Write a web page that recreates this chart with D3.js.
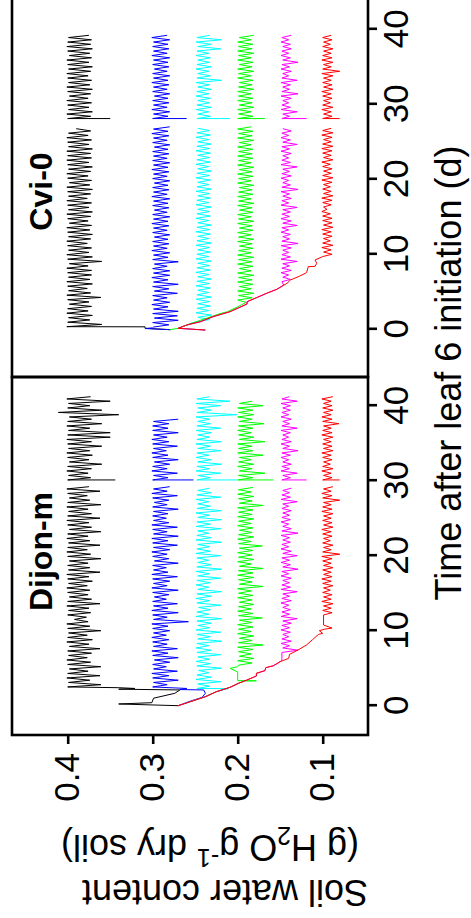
<!DOCTYPE html>
<html><head><meta charset="utf-8">
<script src="https://cdn.jsdelivr.net/npm/d3@7"></script>
<style>html,body{margin:0;padding:0;background:#fff;}svg{display:block;}</style>
</head><body>
<script>
// ---------------- DATA ----------------
const STEP = 0.3; // days between weighings
const timeTicks = [0, 10, 20, 30, 40];
const waterTicks = [0.1, 0.2, 0.3, 0.4];
const panelNames = ["Dijon-m", "Cvi-0"];
const seriesColors = ["#000000", "#0000ff", "#00ffff", "#00ff00", "#ff00ff", "#ff0000"];

// Dijon-m: dry-down phase [day, value]
const dijonBlackInit = [[0,.27],[0.23,.34],[0.4,.301],[1.0,.299],[1.65,.274],[2.1,.268],[2.2,.34],[2.3,.321],[2.4,.34]];
const dijonBlueInit = [[0,.27],[0.6,.256],[1.1,.242],[1.65,.238],[2.1,.24],[2.15,.268],[2.3,.26]];
const dijonCyanInit = [[0,.27],[0.53,.256],[1.2,.238],[1.87,.225],[2.28,.211]];
const dijonGreenInit = [[0,.27],[0.53,.256],[1.2,.238],[1.87,.225],[2.45,.209],[2.99,.199],[3.3,.191],[3.32,.178],[3.35,.2],[4.5,.2],[4.98,.209],[5.2,.2]];
const dijonMagentaInit = [[0,.27],[0.53,.256],[1.2,.238],[1.87,.225],[2.45,.209],[2.99,.199],[3.43,.189],[3.96,.178],[4.32,.178],[4.67,.168],[5.07,.167],[5.33,.158],[5.87,.15],[6.1,.148]];
const dijonRedInit = [[0,.27],[0.53,.256],[1.2,.238],[1.87,.225],[2.45,.209],[2.99,.199],[3.43,.189],[3.96,.178],[4.32,.178],[4.67,.168],[5.07,.167],[5.33,.158],[5.87,.15],[6.32,.14],[6.85,.139],[7.43,.129],[8.1,.119],[8.8,.112],[9.5,.105],[9.65,.1],[10.0,.104],[10.2,.098],[10.35,.089],[10.76,.099]];
const dijonSeg1Start = [2.5, 2.5, 2.3, 5.4, 7.1, 12.1];
const dijonSeg2Start = 30.1;
const dijonRestart = [.344, .252, .201, .158, .119, .08];

const dijonBlack1 = [.400,.361,.399,.374,.401,.362,.400,.376,.398,.361,.400,.373,.401,.377,.399,.372,.400,.362,.398,.375,.401,.371,.400,.377,.399,.361,.400,.374,.401,.376,.392,.378,.400,.373,.399,.375,.401,.362,.400,.372,.398,.376,.400,.374,.401,.377,.399,.371,.400,.375,.401,.362,.399,.374,.400,.376,.398,.361,.400,.373,.401,.377,.400,.362,.399,.374,.401,.376,.400,.361,.398,.372,.400,.375,.401,.362,.400,.372,.399,.376,.401,.361,.400,.374,.398,.377,.400,.362,.401,.375];
const dijonBlack2 = [.400,.373,.399,.376,.401,.372,.400,.36,.398,.375,.400,.371,.401,.374,.399,.36,.400,.372,.401,.35,.400,.35,.399,.374,.401,.36,.400,.372,.398,.34,.411,.36,.400,.374,.399,.35,.401,.373];
const dijonBlue1 = [.300,.283,.299,.270,.300,.281,.301,.271,.299,.284,.300,.28,.298,.27,.300,.282,.301,.271,.299,.283,.300,.281,.301,.284,.299,.28,.300,.282,.301,.258,.299,.283,.300,.27,.301,.282,.299,.271,.300,.284,.298,.281,.300,.27,.301,.283,.299,.28,.300,.271,.301,.282,.299,.284,.300,.27,.298,.281,.300,.283,.301,.28,.299,.271,.300,.282,.301,.27,.299,.283,.300,.271,.301,.281,.299,.284,.300,.282,.299,.27,.300,.283,.298,.281,.300,.271,.301,.283,.299,.28];
const dijonBlue2 = [.300,.282,.299,.271,.301,.283,.300,.28,.298,.27,.300,.282,.301,.284,.299,.271,.300,.281,.301,.283,.299,.27,.300,.282,.300,.281,.299,.27];
const dijonCyan1 = [.248,.233,.247,.22,.249,.231,.248,.234,.246,.219,.248,.232,.249,.233,.247,.22,.248,.231,.249,.234,.248,.219,.247,.232,.248,.22,.249,.233,.247,.231,.248,.219,.249,.234,.248,.232,.246,.22,.248,.233,.249,.231,.248,.219,.247,.234,.249,.232,.248,.22,.247,.233,.249,.219,.248,.231,.247,.234,.248,.22,.249,.232,.248,.233,.247,.219,.249,.231,.248,.234,.247,.22,.249,.232,.248,.219,.247,.233,.249,.219,.248,.232,.247,.234,.249,.22,.248,.231,.247,.233];
const dijonCyan2 = [.248,.232,.247,.22,.249,.233,.248,.219,.247,.231,.249,.234,.248,.22,.247,.232,.249,.219,.248,.233,.247,.231,.249,.22,.248,.232,.247,.233,.249,.201,.248,.231,.247,.22,.249,.209,.248,.233];
const dijonGreen1 = [.199,.183,.2,.181,.198,.184,.199,.182,.2,.17,.199,.183,.198,.181,.2,.184,.199,.182,.2,.183,.198,.171,.199,.182,.2,.184,.199,.181,.198,.183,.2,.182,.199,.184,.2,.17,.198,.183,.199,.181,.2,.182,.199,.17,.198,.184,.2,.181,.199,.183,.2,.182,.198,.171,.199,.184,.2,.181,.199,.183,.198,.182,.2,.184,.199,.181,.2,.183,.199,.182,.2,.17,.198,.183,.199,.181,.2,.184,.199,.182];
const dijonGreen2 = [.2,.182,.199,.168,.198,.183,.2,.181,.199,.184,.198,.17,.2,.182,.199,.183,.2,.168,.198,.181,.199,.184,.2,.182,.199,.169,.198,.183,.2,.181,.199,.182,.2,.17,.198,.183];
const dijonMagenta1 = [.148,.129,.147,.139,.149,.137,.148,.14,.147,.138,.149,.139,.148,.137,.147,.13,.149,.139,.148,.138,.147,.14,.149,.137,.148,.139,.147,.13,.149,.138,.148,.139,.147,.137,.149,.14,.148,.129,.147,.138,.149,.139,.148,.13,.147,.137,.149,.14,.148,.138,.147,.139,.149,.129,.148,.137,.147,.14,.149,.138,.148,.139,.147,.137,.148,.14,.147,.13,.149,.138,.148,.139,.147,.137];
const dijonMagenta2 = [.148,.138,.147,.13,.149,.139,.148,.137,.147,.14,.149,.138,.148,.129,.147,.139,.149,.137,.148,.14,.147,.138,.149,.13,.148,.139,.147,.137,.149,.14,.148,.138,.147,.138,.149,.13,.148,.139];
const dijonRed1 = [.099,.089,.1,.09,.099,.088,.101,.09,.099,.089,.1,.091,.099,.088,.1,.09,.101,.089,.099,.09,.1,.088,.099,.09,.1,.089,.101,.08,.1,.09,.099,.088,.1,.091,.099,.089,.1,.09,.101,.088,.099,.089,.1,.09,.099,.088,.101,.089,.1,.09,.099,.08,.1,.089,.101,.09,.099,.088];
const dijonRed2 = [.1,.089,.099,.09,.101,.088,.1,.091,.099,.089,.1,.09,.101,.088,.099,.089,.1,.09,.099,.088,.101,.089,.1,.09,.099,.081,.1,.089,.101,.09,.099,.088,.1,.089,.099,.09,.101,.088];

// Cvi-0: dry-down phase [day, value]
const cviBlackInit = [[-0.05,.279],[0.13,.309],[0.33,.309]];
const cviBlueInit = [[-0.05,.279],[0.1,.309],[0.2,.3]];
const cviCyanInit = [[-0.1,.238],[0.13,.27],[0.57,.26],[0.9,.252]];
const cviGreenInit = [[-0.05,.28],[0.13,.27],[0.7,.257],[1.5,.236],[2.05,.222],[2.15,.219],[2.35,.212],[3.0,.2],[3.6,.19]];
const cviMagentaInit = [[-0.1,.238],[0.13,.27],[0.57,.26],[1.01,.244],[1.68,.229],[2.35,.209],[3.37,.189],[3.68,.189],[4.21,.178],[4.8,.166],[5.33,.154],[5.9,.146]];
const cviRedInit = [[-0.1,.238],[0.13,.27],[0.57,.26],[1.01,.244],[1.68,.229],[2.35,.209],[3.37,.189],[3.68,.189],[4.21,.178],[4.8,.166],[5.33,.154],[6.13,.142],[6.57,.138],[7.1,.127],[7.55,.119],[8.35,.117],[8.4,.109],[8.8,.107],[9.24,.109]];
const cviSeg1Start = [0.35, 0.3, 1.0, 3.9, 6.35, 9.7];
const cviSeg2Start = 28.1;
const cviRestart = [.35, .26, .209, .168, .119, .08];

const cviBlack1 = [.401,.36,.4,.374,.399,.371,.401,.376,.4,.372,.398,.375,.4,.361,.401,.373,.399,.377,.4,.371,.401,.374,.399,.372,.4,.372,.401,.376,.398,.36,.4,.371,.401,.375,.399,.372,.4,.377,.401,.373,.399,.371,.4,.374,.401,.372,.398,.376,.4,.373,.401,.371,.399,.375,.4,.372,.401,.377,.399,.373,.4,.371,.401,.374,.398,.372,.4,.376,.401,.373,.399,.371,.4,.375,.401,.372,.4,.373,.401,.371,.399,.375,.4,.372,.401,.376,.399,.373,.39];
const cviBlack2 = [.4,.373,.401,.371,.399,.375,.4,.372,.401,.376,.398,.373,.4,.371,.401,.374,.399,.372,.4,.376,.401,.373,.399,.371,.4,.375,.401,.372,.398,.374,.4,.371,.401,.373,.4,.372,.399,.375];
const cviBlue1 = [.299,.281,.3,.27,.298,.271,.3,.27,.299,.282,.301,.28,.299,.283,.3,.271,.298,.281,.3,.27,.299,.282,.301,.28,.299,.28,.3,.283,.298,.27,.3,.282,.299,.28,.301,.283,.299,.281,.3,.282,.298,.28,.3,.283,.299,.281,.301,.282,.299,.28,.3,.283,.298,.281,.3,.282,.299,.28,.301,.283,.299,.281,.3,.282,.298,.28,.3,.283,.299,.281,.301,.282,.299,.28,.3,.283,.299,.281,.3,.282,.298,.28,.3,.283,.299,.281,.301,.282,.299,.28];
const cviBlue2 = [.3,.282,.299,.28,.301,.283,.299,.281,.3,.282,.298,.28,.3,.283,.299,.281,.301,.282,.299,.28,.3,.283,.298,.281,.3,.282,.299,.28,.301,.283,.299,.281,.3,.282,.299,.28,.301,.283];
const cviCyan1 = [.248,.233,.247,.231,.249,.234,.248,.232,.247,.233,.249,.231,.248,.234,.247,.232,.249,.233,.248,.231,.247,.234,.249,.232,.248,.233,.247,.231,.249,.234,.248,.232,.247,.233,.249,.231,.248,.234,.247,.232,.249,.233,.248,.231,.247,.234,.249,.232,.248,.233,.247,.231,.249,.234,.248,.232,.247,.233,.249,.231,.248,.234,.247,.232,.249,.233,.248,.231,.247,.234,.249,.232,.248,.233,.247,.232,.249,.233,.248,.231,.247,.234,.249,.232,.248,.233,.247];
const cviCyan2 = [.248,.232,.247,.234,.249,.231,.248,.233,.247,.232,.249,.234,.248,.231,.247,.233,.249,.219,.248,.232,.247,.234,.249,.231,.248,.233,.247,.232,.249,.234,.248,.22,.247,.231,.249,.219,.248,.233];
const cviGreen1 = [.2,.183,.199,.181,.2,.184,.198,.182,.2,.183,.199,.181,.2,.184,.198,.182,.2,.183,.199,.181,.2,.184,.199,.182,.198,.183,.2,.181,.199,.184,.2,.182,.198,.183,.2,.181,.199,.184,.2,.182,.198,.183,.2,.181,.199,.184,.2,.182,.199,.183,.198,.181,.2,.184,.199,.182,.2,.183,.198,.181,.2,.184,.199,.182,.2,.183,.199,.182,.2,.184,.198,.181,.2,.183,.199,.182,.2,.184];
const cviGreen2 = [.2,.182,.199,.184,.2,.181,.198,.183,.2,.182,.199,.184,.2,.181,.199,.183,.198,.182,.2,.184,.199,.181,.2,.183,.198,.182,.2,.184,.199,.181,.2,.183,.199,.182,.2,.184,.198,.181];
const cviMagenta1 = [.148,.138,.147,.14,.149,.137,.148,.139,.147,.13,.149,.138,.148,.14,.147,.137,.149,.129,.148,.139,.147,.138,.149,.14,.148,.13,.147,.137,.149,.139,.148,.138,.147,.13,.149,.14,.148,.137,.147,.139,.149,.129,.148,.138,.147,.14,.149,.137,.148,.139,.147,.13,.149,.138,.148,.14,.147,.137,.149,.139,.148,.13,.147,.138,.149,.14,.148,.137,.147];
const cviMagenta2 = [.148,.139,.147,.13,.149,.138,.148,.14,.147,.137,.149,.129,.148,.139,.147,.138,.149,.13,.148,.14,.147,.137,.149,.139,.148,.129,.147,.138,.149,.14,.148,.137,.147,.138,.149,.14,.148,.137];
const cviRed1 = [.1,.089,.099,.09,.101,.088,.1,.091,.099,.089,.1,.09,.101,.088,.099,.089,.1,.089,.1,.091,.101,.095,.099,.09,.1,.089,.101,.088,.099,.09,.1,.091,.099,.089,.101,.088,.1,.09,.099,.089,.1,.091,.101,.088,.099,.09,.1,.089,.101,.088,.1,.09,.099,.089,.101,.088,.1,.09];
const cviRed2 = [.1,.089,.099,.09,.101,.088,.1,.091,.099,.089,.1,.09,.101,.088,.099,.089,.1,.09,.099,.088,.101,.08,.1,.09,.099,.088,.101,.089,.1,.09,.099,.088,.1,.091,.099,.089,.1,.09];

// ---------------- BUILD ----------------
const panels = [
  {name: panelNames[0], box: [183, 541], zeroX: 212.3,
   init: [dijonBlackInit, dijonBlueInit, dijonCyanInit, dijonGreenInit, dijonMagentaInit, dijonRedInit],
   seg1: [dijonBlack1, dijonBlue1, dijonCyan1, dijonGreen1, dijonMagenta1, dijonRed1],
   seg2: [dijonBlack2, dijonBlue2, dijonCyan2, dijonGreen2, dijonMagenta2, dijonRed2],
   s1: dijonSeg1Start, s2: dijonSeg2Start, restart: dijonRestart, yAxis: true, titleX: 366.5},
  {name: panelNames[1], box: [541, 921], zeroX: 588.7,
   init: [cviBlackInit, cviBlueInit, cviCyanInit, cviGreenInit, cviMagentaInit, cviRedInit],
   seg1: [cviBlack1, cviBlue1, cviCyan1, cviGreen1, cviMagenta1, cviRed1],
   seg2: [cviBlack2, cviBlue2, cviCyan2, cviGreen2, cviMagenta2, cviRed2],
   s1: cviSeg1Start, s2: cviSeg2Start, restart: cviRestart, yAxis: false, titleX: 726.5}
];

const FONT = "'Liberation Sans', Arial, Helvetica, sans-serif";
const boxTop = 12, boxBottom = 368;
const y = d3.scaleLinear().domain([0.1, 0.4]).range([322.7, 67.7]);

const svg = d3.select("body").append("svg").attr("width", 471).attr("height", 918);
const g = svg.append("g").attr("transform", "translate(0,918) rotate(-90)");

panels.forEach(p => {
  const x = d3.scaleLinear().domain([0, 40]).range([p.zeroX, p.zeroX + 300]);
  const line = d3.line().x(d => x(d[0])).y(d => y(d[1]));
  const pg = g.append("g");

  for (let k = 0; k < 6; k++) {
    const a = p.init[k].concat(p.seg1[k].map((v, i) => [p.s1[k] + i * STEP, v]));
    const b = [[p.s2, p.restart[k]]].concat(p.seg2[k].map((v, i) => [p.s2 + i * STEP, v]));
    [a, b].forEach(pts => {
      pg.append("path").attr("d", line(pts)).attr("fill", "none")
        .attr("stroke", seriesColors[k]).attr("stroke-width", 1);
    });
  }

  pg.append("rect").attr("x", p.box[0]).attr("y", boxTop)
    .attr("width", p.box[1] - p.box[0]).attr("height", boxBottom - boxTop)
    .attr("fill", "none").attr("stroke", "#000").attr("stroke-width", 2.6);

  const xa = pg.append("g").attr("transform", `translate(0,${boxBottom})`)
    .call(d3.axisBottom(x).tickValues(timeTicks).tickSize(9).tickPadding(6).tickFormat(d3.format("d")));
  xa.select(".domain").remove();
  xa.selectAll("line").attr("stroke-width", 2.6);
  xa.selectAll("text").attr("font-size", 35).attr("font-family", FONT).attr("fill", "#000");

  if (p.yAxis) {
    const ya = pg.append("g").attr("transform", `translate(${p.box[0]},0)`)
      .call(d3.axisLeft(y).tickValues(waterTicks).tickSize(9).tickPadding(9).tickFormat(d3.format(".1f")));
    ya.select(".domain").remove();
    ya.selectAll("line").attr("stroke-width", 2.6);
    ya.selectAll("text").attr("font-size", 35).attr("font-family", FONT).attr("fill", "#000");
  }

  pg.append("text").attr("x", p.titleX).attr("y", 52).attr("text-anchor", "middle")
    .attr("font-size", 32).attr("font-weight", "bold").attr("font-family", FONT).text(p.name);
});

// axis titles
g.append("text").attr("x", 545).attr("y", 461).attr("text-anchor", "middle")
  .attr("font-size", 36).attr("font-family", FONT).text("Time after leaf 6 initiation (d)");

g.append("text").attr("transform", "translate(38,225) rotate(-90)").attr("text-anchor", "middle")
  .attr("font-size", 36).attr("font-family", FONT).text("Soil water content");

const t2 = g.append("text").attr("transform", "translate(83,210) rotate(-90)").attr("text-anchor", "middle")
  .attr("font-size", 36).attr("font-family", FONT);
t2.append("tspan").text("(g H");
t2.append("tspan").attr("font-size", 25).attr("dy", 8).text("2");
t2.append("tspan").attr("dy", -8).text("O g");
t2.append("tspan").attr("font-size", 25).attr("dy", -14).text("-1");
t2.append("tspan").attr("dy", 14).text(" dry soil)");
</script>
</body></html>
